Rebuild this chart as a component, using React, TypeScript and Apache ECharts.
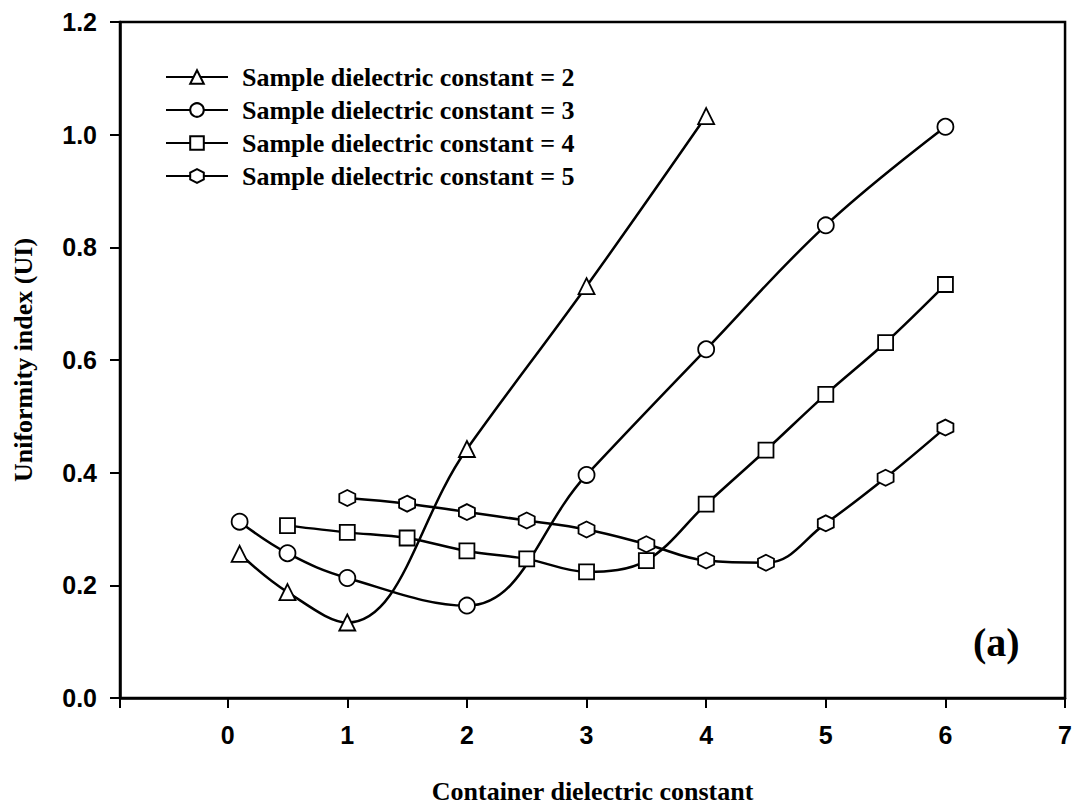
import React, { useEffect, useRef } from "react";
import * as echarts from "echarts";

const seriesNames = [
  "Sample dielectric constant = 2",
  "Sample dielectric constant = 3",
  "Sample dielectric constant = 4",
  "Sample dielectric constant = 5",
];

const x2 = [0.1, 0.5, 1, 2, 3, 4];
const y2 = [0.256, 0.188, 0.134, 0.442, 0.731, 1.033];

const x3 = [0.1, 0.5, 1, 2, 3, 4, 5, 6];
const y3 = [0.313, 0.257, 0.213, 0.164, 0.396, 0.619, 0.839, 1.014];

const x4 = [0.5, 1, 1.5, 2, 2.5, 3, 3.5, 4, 4.5, 5, 5.5, 6];
const y4 = [0.306, 0.294, 0.284, 0.261, 0.247, 0.224, 0.244, 0.344, 0.44, 0.539, 0.631, 0.734];

const x5 = [1, 1.5, 2, 2.5, 3, 3.5, 4, 4.5, 5, 5.5, 6];
const y5 = [0.355, 0.345, 0.33, 0.315, 0.299, 0.273, 0.244, 0.24, 0.31, 0.391, 0.48];

const hexagon = "path://M0,-1 L0.866,-0.5 L0.866,0.5 L0,1 L-0.866,0.5 L-0.866,-0.5 Z";
const symbols = ["triangle", "circle", "rect", hexagon];
const smoothness = [0.4, 0.4, 0.35, 0.4];

const serif = "'Liberation Serif', 'Times New Roman', serif";
const sans = "'Liberation Sans', Arial, sans-serif";

function pairs(xs: number[], ys: number[]) {
  return xs.map((x, i) => [x, ys[i]]);
}

export default function App() {
  const ref = useRef<HTMLDivElement>(null);
  useEffect(() => {
    document.body.style.margin = "0";
    const chart = echarts.init(ref.current!, undefined, { renderer: "svg" });
    const data = [pairs(x2, y2), pairs(x3, y3), pairs(x4, y4), pairs(x5, y5)];
    chart.setOption({
      animation: false,
      backgroundColor: "#fff",
      title: {
        text: "(a)",
        left: 973,
        top: 622,
        padding: 0,
        textStyle: { fontFamily: serif, fontWeight: "bold", fontSize: 40, color: "#000" },
      },
      legend: {
        orient: "vertical",
        left: 165,
        top: 64,
        padding: 0,
        itemWidth: 62,
        itemHeight: 17,
        itemGap: 7,
        data: seriesNames,
        textStyle: {
          fontFamily: serif,
          fontWeight: "bold",
          fontSize: 26,
          lineHeight: 26,
          color: "#000",
          padding: [0, 0, 0, 9],
        },
      },
      grid: {
        left: 120,
        right: 9,
        top: 22,
        bottom: 106,
        show: true,
        borderColor: "#000",
        borderWidth: 2.5,
      },
      xAxis: {
        type: "value",
        min: -0.9,
        max: 7,
        splitNumber: 8,
        minInterval: 1,
        maxInterval: 1,
        name: "Container dielectric constant",
        nameLocation: "middle",
        nameGap: 80,
        nameTextStyle: { fontFamily: serif, fontWeight: "bold", fontSize: 26, color: "#000" },
        axisLine: { show: true, onZero: false, lineStyle: { color: "#000", width: 2.5 } },
        axisTick: { show: true, length: 10, lineStyle: { color: "#000", width: 2 } },
        axisLabel: {
          margin: 24,
          fontFamily: sans,
          fontWeight: "bold",
          fontSize: 25,
          color: "#000",
          formatter: (v: number) => (Number.isInteger(v) ? String(v) : ""),
        },
        splitLine: { show: false },
      },
      yAxis: {
        type: "value",
        min: 0,
        max: 1.2,
        interval: 0.2,
        name: "Uniformity index (UI)",
        nameLocation: "middle",
        nameGap: 84,
        nameTextStyle: { fontFamily: serif, fontWeight: "bold", fontSize: 26, color: "#000" },
        axisLine: { show: true, onZero: false, lineStyle: { color: "#000", width: 2.5 } },
        axisTick: { show: true, length: 10, lineStyle: { color: "#000", width: 2 } },
        axisLabel: {
          margin: 23,
          fontFamily: sans,
          fontWeight: "bold",
          fontSize: 25,
          color: "#000",
          formatter: (v: number) => v.toFixed(1),
        },
        splitLine: { show: false },
      },
      series: seriesNames.map((name, i) => ({
        name,
        type: "line",
        data: data[i],
        smooth: smoothness[i],
        symbol: symbols[i],
        symbolSize: i === 2 ? 15 : 16,
        showAllSymbol: true,
        lineStyle: { color: "#000", width: 2.5 },
        itemStyle: { color: "#fff", borderColor: "#000", borderWidth: 1.8 },
        z: 2,
      })),
    });
    return () => chart.dispose();
  }, []);
  return <div ref={ref} style={{ width: 1075, height: 809 }} />;
}
